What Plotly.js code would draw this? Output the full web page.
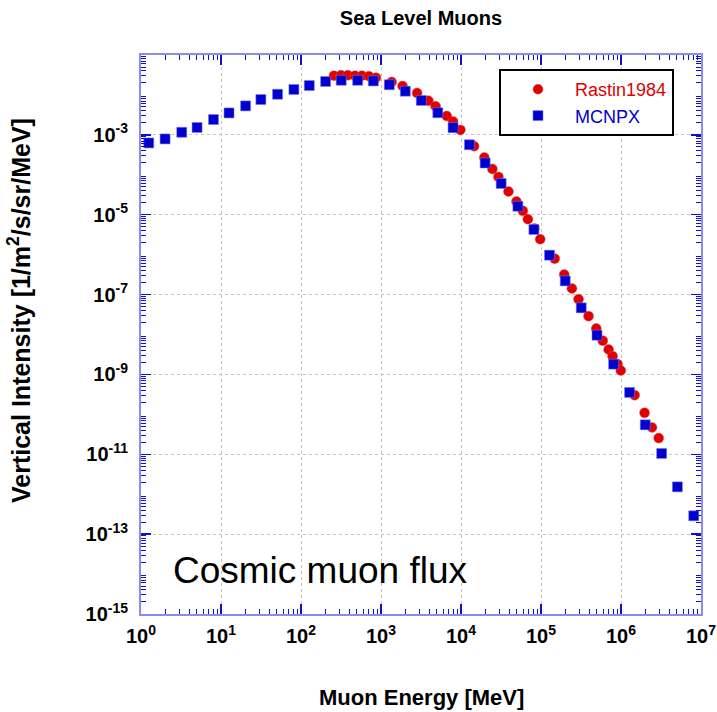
<!DOCTYPE html>
<html>
<head>
<meta charset="utf-8">
<script src="https://cdn.plot.ly/plotly-3.0.1.min.js"></script>
<style>
  html, body { margin: 0; padding: 0; background: #fff; }
  #chart { width: 717px; height: 712px; }
</style>
</head>
<body>
<div id="chart"></div>
<script>
// Rastin (1984) measured vertical muon intensity at sea level
const rastinEnergy = [258, 316, 386, 473, 578, 708, 866, 1361, 1858, 2824, 3909, 4812, 6640, 7960, 9820,
  14580, 19580, 24660, 29380, 39180, 49320, 59290, 68500, 82900, 97700, 148500, 195200, 243600, 294600,
  392900, 490600, 591800, 699400, 785000, 906600, 994000, 1.48e6, 1.97e6, 2.44e6, 2.96e6];
const rastinFlux = [3.03e-2, 3.11e-2, 3.11e-2, 3.03e-2, 3.03e-2, 2.94e-2, 2.70e-2, 2.11e-2, 1.67e-2, 1.12e-2,
  7.16e-3, 5.21e-3, 2.96e-3, 2.16e-3, 1.33e-3, 5.2e-4, 2.71e-4, 1.40e-4, 8.85e-5, 3.81e-5, 2.15e-5, 1.25e-5,
  7.73e-6, 4.52e-6, 2.44e-6, 7.93e-7, 3.18e-7, 1.42e-7, 7.67e-8, 2.88e-8, 1.42e-8, 7.02e-9, 4.22e-9, 2.87e-9,
  1.81e-9, 1.25e-9, 3.03e-10, 1.09e-10, 4.7e-11, 2.54e-11];

// MCNPX simulated spectrum
const mcnpxEnergy = [1.25, 2.0, 3.23, 5.02, 8.05, 12.6, 20.3, 31.5, 50.9, 81.5, 127, 203, 318, 511, 801,
  1270, 2014, 3186, 5130, 7960, 12740, 20040, 31770, 51400, 81500, 127700, 200900, 318500, 501000, 808000,
  1.28e6, 2.01e6, 3.22e6, 5.07e6, 8.11e6];
const mcnpxFlux = [6.28e-4, 7.9e-4, 1.16e-3, 1.53e-3, 2.42e-3, 3.54e-3, 5.31e-3, 7.67e-3, 1.04e-2, 1.37e-2,
  1.72e-2, 2.17e-2, 2.33e-2, 2.33e-2, 2.24e-2, 1.8e-2, 1.24e-2, 7.28e-3, 3.58e-3, 1.51e-3, 5.66e-4, 1.97e-4,
  6.05e-5, 1.63e-5, 4.27e-6, 9.7e-7, 2.2e-7, 4.65e-8, 9.6e-9, 1.81e-9, 3.54e-10, 5.47e-11, 1.05e-11,
  1.53e-12, 2.88e-13];

// axis decades and their labels
const xDecades = [0, 1, 2, 3, 4, 5, 6, 7];
const xTickLabels = ['10<sup>0</sup>', '10<sup>1</sup>', '10<sup>2</sup>', '10<sup>3</sup>',
  '10<sup>4</sup>', '10<sup>5</sup>', '10<sup>6</sup>', '10<sup>7</sup>'];
const yDecades = [-15, -14, -13, -12, -11, -10, -9, -8, -7, -6, -5, -4, -3, -2, -1];
const yLabelDecades = [-15, -13, -11, -9, -7, -5, -3];
const yTickLabels = ['10<sup>-15</sup>', '10<sup>-13</sup>', '10<sup>-11</sup>', '10<sup>-9</sup>',
  '10<sup>-7</sup>', '10<sup>-5</sup>', '10<sup>-3</sup>'];
const yPlainDecades = [-14, -12, -10, -8, -6, -4, -2];

// minor ticks at 2..9 within each decade
function minorTicks(decades) {
  const out = [];
  for (let i = 0; i < decades.length - 1; i++) {
    for (let m = 2; m <= 9; m++) out.push(m * Math.pow(10, decades[i]));
  }
  return out;
}
const pow10 = d => Math.pow(10, d);

const FONT = 'Liberation Sans, Arial, Helvetica, sans-serif';
const frameColor = '#8a8af0';
const tickColor = '#1010c8';

const traces = [
  {
    x: rastinEnergy, y: rastinFlux, name: 'Rastin1984',
    type: 'scatter', mode: 'markers',
    marker: { symbol: 'circle', size: 10, color: '#e00000', line: { width: 0.6, color: 'rgba(235,90,90,0.7)' } }
  },
  {
    x: mcnpxEnergy, y: mcnpxFlux, name: 'MCNPX',
    type: 'scatter', mode: 'markers',
    marker: { symbol: 'square', size: 10, color: '#0000cc', line: { width: 0.8, color: 'rgba(120,120,255,0.7)' } }
  }
];

const gridStyle = { showgrid: true, gridcolor: '#c4c4c4', griddash: 'dot', gridwidth: 1 };
const tickStyle = { ticks: 'inside', ticklen: 10, tickwidth: 1.5, tickcolor: tickColor };
const minorStyle = { tickmode: 'array', ticks: 'inside', ticklen: 5, tickwidth: 1, tickcolor: tickColor, showgrid: false };
const tickFont = { family: FONT, size: 20, weight: 'bold', color: '#000' };

const layout = {
  width: 717, height: 712,
  margin: { l: 141, r: 16, t: 55, b: 98 },
  paper_bgcolor: '#fff', plot_bgcolor: '#fff',
  title: {
    text: 'Sea Level Muons',
    font: { family: FONT, size: 20, weight: 'bold', color: '#000' },
    x: 0.5, xref: 'paper', xanchor: 'center',
    y: 1 - 18 / 712, yref: 'container', yanchor: 'middle'
  },
  xaxis: Object.assign({ type: 'log', range: [0, 7], zeroline: false,
    showline: true, linecolor: frameColor, linewidth: 2, mirror: 'ticks',
    tickmode: 'array', tickvals: xDecades.map(pow10), ticktext: xTickLabels,
    tickfont: tickFont, ticklabelstandoff: 3,
    minor: Object.assign({ tickvals: minorTicks(xDecades) }, minorStyle)
  }, gridStyle, tickStyle),
  // labelled decades plus the 2..9 minor ticks
  yaxis: Object.assign({ type: 'log', range: [-15, -1], zeroline: false,
    showline: true, linecolor: frameColor, linewidth: 2, mirror: 'ticks',
    tickmode: 'array', tickvals: yLabelDecades.map(pow10), ticktext: yTickLabels,
    tickfont: tickFont, ticklabelstandoff: 7,
    minor: Object.assign({ tickvals: minorTicks(yDecades) }, minorStyle)
  }, gridStyle, tickStyle),
  // unlabelled decades: grid and ticks only
  yaxis2: Object.assign({ type: 'log', range: [-15, -1], overlaying: 'y', side: 'left', zeroline: false,
    showline: false, mirror: 'ticks', showticklabels: false,
    tickmode: 'array', tickvals: yPlainDecades.map(pow10).concat([0.1])
  }, gridStyle, tickStyle),
  showlegend: true,
  legend: {
    x: (499 - 141) / 560, y: (614 - 69) / 559, xanchor: 'left', yanchor: 'top',
    bgcolor: '#fff', bordercolor: '#000', borderwidth: 2,
    font: { family: FONT, size: 18 },
    itemwidth: 64,
    itemclick: false
  },
  annotations: [
    {
      text: 'Muon Energy [MeV]', showarrow: false,
      xref: 'paper', yref: 'paper', x: 0.5, y: (614 - 697) / 559,
      xanchor: 'center', yanchor: 'middle',
      font: { family: FONT, size: 22, weight: 'bold', color: '#000' }
    },
    {
      text: 'Vertical Intensity [1/m<sup>2</sup>/s/sr/MeV]', showarrow: false, textangle: -90,
      xref: 'paper', yref: 'paper', x: (19 - 141) / 560, y: (614 - 311) / 559,
      xanchor: 'center', yanchor: 'middle',
      font: { family: FONT, size: 25, weight: 'bold', color: '#000' }
    },
    {
      text: 'Cosmic muon flux', showarrow: false,
      xref: 'paper', yref: 'paper', x: (171 - 141) / 560, y: (614 - 570) / 559,
      xanchor: 'left', yanchor: 'middle',
      font: { family: FONT, size: 37, color: '#000' }
    }
  ]
};

// legend text colours follow their series
Plotly.newPlot('chart', traces, layout, { staticPlot: true, displayModeBar: false }).then(gd => {
  const colors = ['#e00000', '#0000cc'];
  gd.querySelectorAll('.legend .traces').forEach((g, i) => {
    const t = g.querySelector('text.legendtext');
    if (t) t.style.fill = colors[i];
  });
});
</script>
</body>
</html>
